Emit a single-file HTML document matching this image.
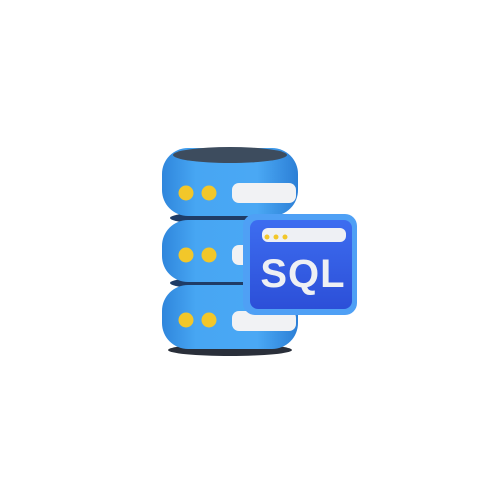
<!DOCTYPE html>
<html><head><style>
body{margin:0;width:500px;height:500px;background:#fff;position:relative;overflow:hidden;font-family:"Liberation Sans",sans-serif}
</style></head><body>
<svg width="500" height="500" viewBox="0 0 500 500" style="position:absolute;left:0;top:0">
<defs>
<linearGradient id="cyl" x1="0" x2="1" y1="0" y2="0">
<stop offset="0" stop-color="#2f86dc"/><stop offset="0.25" stop-color="#47a6f3"/><stop offset="0.7" stop-color="#4aa8f4"/><stop offset="1" stop-color="#2c7fd6"/>
</linearGradient>
<linearGradient id="pan" x1="0" x2="0" y1="0" y2="1">
<stop offset="0" stop-color="#3d6df0"/><stop offset="1" stop-color="#2c4fd8"/>
</linearGradient>
</defs>
<!-- shadows/dark gaps -->
<ellipse cx="230" cy="350" rx="62" ry="6" fill="#2a2f3a"/>
<ellipse cx="230" cy="283" rx="60" ry="7" fill="#1f3c66"/>
<ellipse cx="230" cy="218" rx="60" ry="7" fill="#1f3c66"/>
<!-- bottom -->
<rect x="162" y="285" width="136" height="64" rx="26" fill="url(#cyl)"/>
<circle cx="186" cy="320" r="7.5" fill="#f2c72a"/><circle cx="209" cy="320" r="7.5" fill="#f2c72a"/>
<rect x="232" y="311" width="64" height="20" rx="7" fill="#f1f2f4"/>
<!-- middle -->
<rect x="162" y="220" width="136" height="62" rx="26" fill="url(#cyl)"/>
<circle cx="186" cy="255" r="7.5" fill="#f2c72a"/><circle cx="209" cy="255" r="7.5" fill="#f2c72a"/>
<rect x="232" y="245" width="64" height="20" rx="7" fill="#f1f2f4"/>
<!-- top -->
<rect x="162" y="148" width="136" height="68" rx="26" fill="url(#cyl)"/>
<ellipse cx="230" cy="155" rx="57" ry="8" fill="#3d4c5e"/>
<circle cx="186" cy="193" r="7.5" fill="#f2c72a"/><circle cx="209" cy="193" r="7.5" fill="#f2c72a"/>
<rect x="232" y="183" width="64" height="20" rx="7" fill="#f1f2f4"/>
<!-- SQL panel -->
<rect x="243" y="214" width="114" height="101" rx="12" fill="#4fa0f5"/>
<rect x="250" y="220" width="102" height="89" rx="8" fill="url(#pan)"/>
<rect x="262" y="228" width="84" height="14" rx="6" fill="#eef0f4"/>
<circle cx="267" cy="237" r="2.5" fill="#f2c72a"/><circle cx="276" cy="237" r="2.5" fill="#f2c72a"/><circle cx="285" cy="237" r="2.5" fill="#f2c72a"/>
<text x="303" y="287" text-anchor="middle" font-family="Liberation Sans, sans-serif" font-weight="bold" font-size="40" fill="#eef0f4" letter-spacing="1">SQL</text>
</svg>
</body></html>
